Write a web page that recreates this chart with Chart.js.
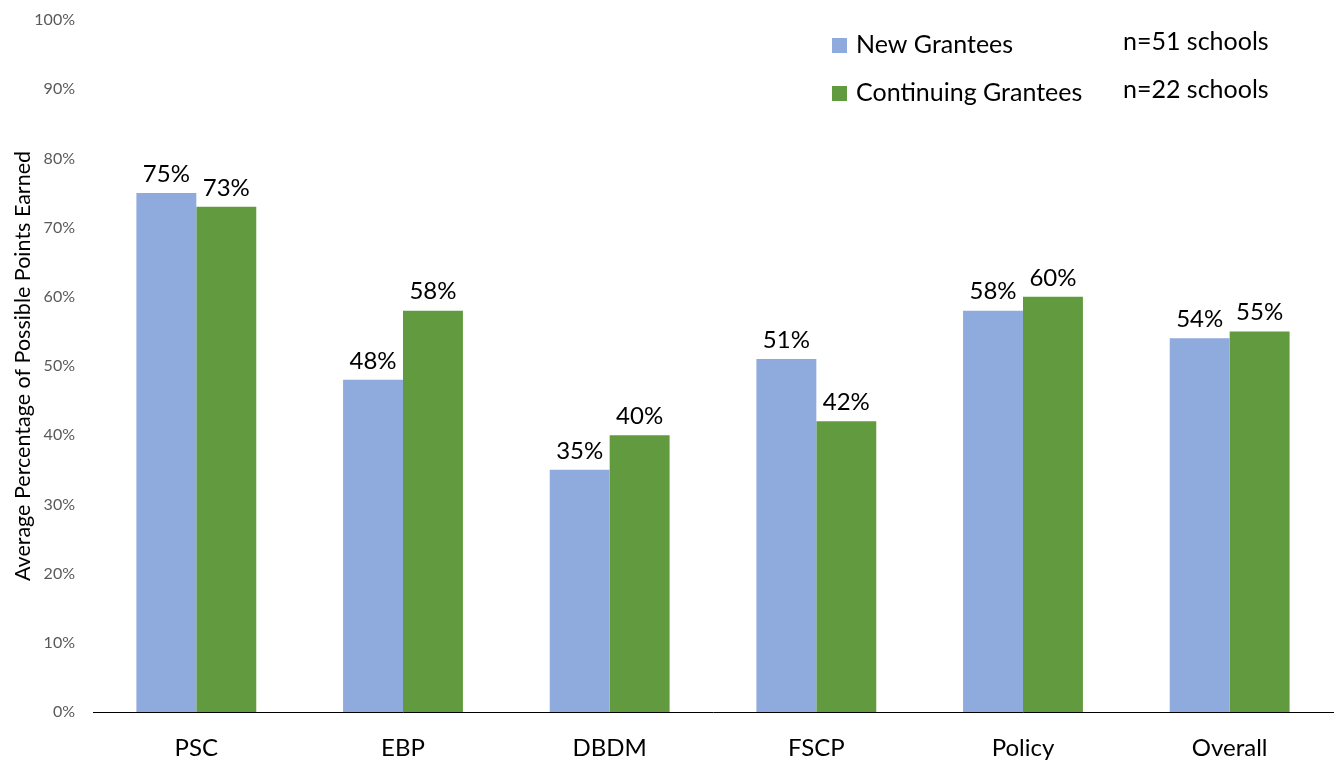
<!DOCTYPE html>
<html>
<head>
<meta charset="utf-8">
<script src="https://cdn.jsdelivr.net/npm/chart.js@4"></script>
<style>
  html, body { margin: 0; padding: 0; background: #fff; }
  #wrap { width: 1335px; height: 762px; }
</style>
</head>
<body>
<div id="wrap"><canvas id="chart" width="1335" height="762"></canvas></div>
<script>
const categories = ['PSC', 'EBP', 'DBDM', 'FSCP', 'Policy', 'Overall'];
const newGrantees = [75, 48, 35, 51, 58, 54];
const continuingGrantees = [73, 58, 40, 42, 60, 55];
const seriesNames = ['New Grantees', 'Continuing Grantees'];
const sampleSizes = ['n=51 schools', 'n=22 schools'];
const seriesColors = ['#8FAADC', '#629B3F'];

// value labels on top of bars
const valueLabels = {
    id: 'valueLabels',
    afterDatasetsDraw(chart) {
        const ctx = chart.ctx;
        ctx.save();
        ctx.font = '24px Lato';
        ctx.fillStyle = '#000';
        ctx.textAlign = 'center';
        ctx.textBaseline = 'bottom';
        chart.data.datasets.forEach((ds, i) => {
            chart.getDatasetMeta(i).data.forEach((bar, j) => {
                ctx.fillText(ds.data[j] + '%', bar.x, bar.y - 7);
            });
        });
        ctx.restore();
    }
};

// legend with sample sizes
const sideLegend = {
    id: 'sideLegend',
    afterDraw(chart) {
        const ctx = chart.ctx;
        ctx.save();
        ctx.textBaseline = 'middle';
        seriesNames.forEach((name, i) => {
            const y = 45 + i * 48;
            ctx.fillStyle = seriesColors[i];
            ctx.fillRect(832, y - 7, 15, 15);
            ctx.fillStyle = '#000';
            ctx.textAlign = 'left';
            ctx.font = '25px Lato';
            ctx.fillText(name, 856, y);
            ctx.fillText(sampleSizes[i], 1123, y - 3);
        });
        ctx.restore();
    }
};

new Chart(document.getElementById('chart').getContext('2d'), {
    type: 'bar',
    data: {
        labels: categories,
        datasets: [
            { label: seriesNames[0], data: newGrantees, backgroundColor: seriesColors[0] },
            { label: seriesNames[1], data: continuingGrantees, backgroundColor: seriesColors[1] }
        ]
    },
    options: {
        responsive: false,
        animation: false,
        layout: { padding: { top: 0, right: 2, left: 10, bottom: 0 } },
        datasets: { bar: { categoryPercentage: 0.58, barPercentage: 1.0 } },
        plugins: {
            legend: { display: false },
            tooltip: { enabled: false }
        },
        scales: {
            x: {
                grid: { display: false, drawTicks: false },
                border: { display: true, color: '#000', width: 1 },
                ticks: { color: '#000', font: { family: 'Lato', size: 24 }, padding: 22 },
                afterFit(scale) { scale.height = 50; }
            },
            y: {
                min: 0,
                max: 100,
                grid: { display: false, drawTicks: false },
                border: { display: false },
                ticks: {
                    stepSize: 10,
                    color: '#595959',
                    padding: 18,
                    font: { family: 'Lato', size: 16 },
                    callback: v => v + '%'
                },
                title: {
                    display: true,
                    text: 'Average Percentage of Possible Points Earned',
                    color: '#000',
                    font: { family: 'Lato', size: 21.5 },
                    padding: { top: 0, bottom: 4 }
                },
                afterFit(scale) {
                    scale.width = 83;
                    scale.paddingTop = 20;
                    scale.paddingBottom = 10;
                }
            }
        }
    },
    plugins: [valueLabels, sideLegend]
});
</script>
</body>
</html>
